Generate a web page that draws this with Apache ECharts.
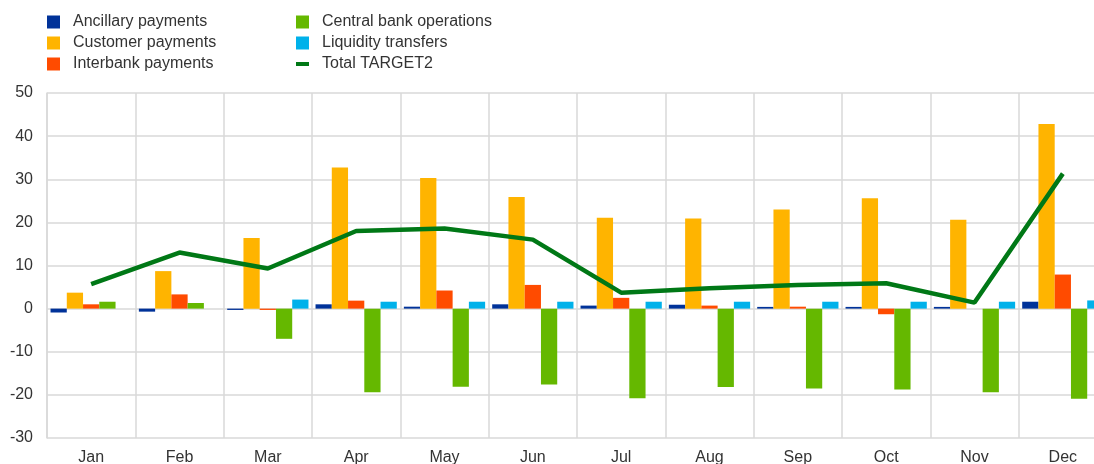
<!DOCTYPE html>
<html>
<head>
<meta charset="utf-8">
<script src="https://cdn.jsdelivr.net/npm/echarts@6/dist/echarts.min.js"></script>
<style>html,body{margin:0;padding:0;background:#fff;}#c{width:1094px;height:464px;}</style>
</head>
<body>
<div id="c"></div>
<script>
const categories = ['Jan','Feb','Mar','Apr','May','Jun','Jul','Aug','Sep','Oct','Nov','Dec'];
const ancillary = [-0.9,-0.7,-0.3,1.0,0.45,1.0,0.7,0.9,0.4,0.4,0.4,1.6];
const customer = [3.7,8.7,16.4,32.7,30.3,25.9,21.1,20.9,23.0,25.6,20.6,42.8];
const interbank = [1.0,3.3,-0.3,1.85,4.2,5.5,2.5,0.7,0.45,-1.3,0,7.9];
const central = [1.6,1.3,-7.0,-19.4,-18.1,-17.6,-20.8,-18.2,-18.5,-18.75,-19.4,-20.9];
const liquidity = [0,0,2.1,1.6,1.6,1.6,1.6,1.6,1.6,1.6,1.6,1.9];
const total = [5.7,13.0,9.3,18.0,18.6,16.0,3.7,4.7,5.5,5.9,1.4,31.3];
const yTicks = [-30,-20,-10,0,10,20,30,40,50];

const font = 'Liberation Sans, Arial, sans-serif';
const txt = {fontFamily: font, fontSize: 16, color: '#333', padding: [0,0,0,8]};
const chart = echarts.init(document.getElementById('c'), null, {renderer: 'canvas'});
const barS = (name, data, color) => ({
  name, type: 'bar', data, itemStyle: {color},
  barGap: '0%', barCategoryGap: '8%', animation: false
});
chart.setOption({
  animation: false,
  legend: [
    {left: 42, top: 9, orient: 'vertical', itemWidth: 13, itemHeight: 13, itemGap: 5,
     textStyle: txt, icon: 'rect',
     data: ['Ancillary payments','Customer payments','Interbank payments']},
    {left: 291, top: 9, orient: 'vertical', itemWidth: 13, itemHeight: 13, itemGap: 5,
     textStyle: txt, icon: 'rect',
     data: ['Central bank operations','Liquidity transfers',
       {name: 'Total TARGET2', icon: 'path://M0,0h26v8h-26z'}]}
  ],
  grid: {left: 47, top: 93, right: -13, bottom: 26, outerBoundsMode: 'none', containLabel: false},
  xAxis: {
    type: 'category', data: categories,
    axisLine: {show: false},
    axisTick: {show: false},
    axisLabel: {fontFamily: font, fontSize: 16, color: '#333', margin: 12},
    splitLine: {show: true, lineStyle: {color: '#d9d9d9', width: 1.5}}
  },
  yAxis: {
    type: 'value', min: yTicks[0], max: yTicks[yTicks.length-1], interval: 10,
    axisLine: {show: true, lineStyle: {color: '#d9d9d9', width: 1.5}},
    axisTick: {show: false},
    axisLabel: {fontFamily: font, fontSize: 16, color: '#333', margin: 14},
    splitLine: {lineStyle: {color: '#d9d9d9', width: 1.5}}
  },
  series: [
    barS('Ancillary payments', ancillary, '#003299'),
    barS('Customer payments', customer, '#FFB400'),
    barS('Interbank payments', interbank, '#FF4B00'),
    barS('Central bank operations', central, '#65B800'),
    barS('Liquidity transfers', liquidity, '#00B1EA'),
    {name: 'Total TARGET2', type: 'line', data: total, showSymbol: false, symbol: 'none',
     itemStyle: {color: '#007816'}, lineStyle: {color: '#007816', width: 4.5}, z: 5}
  ]
});
</script>
</body>
</html>
